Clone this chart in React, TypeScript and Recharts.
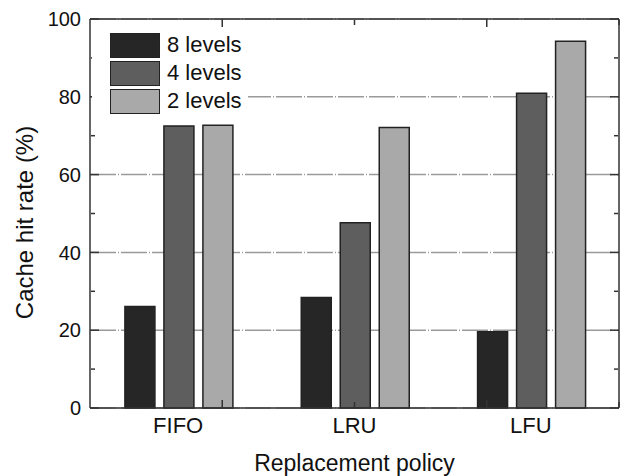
import { BarChart, Bar, XAxis, YAxis, CartesianGrid, Legend } from "recharts";

const policies = ["FIFO", "LRU", "LFU"];
const levels8 = [26.1, 28.4, 19.6];
const levels4 = [72.5, 47.6, 80.9];
const levels2 = [72.7, 72.1, 94.3];

const majorTicks = [0, 20, 40, 60, 80, 100];
const minorTicks = [10, 30, 50, 70, 90];
const centerTicks = [0.5, 1.5, 2.5];
const boundaryTicks = [1, 2];

const series = [
  { key: "l8", name: "8 levels", fill: "#262626" },
  { key: "l4", name: "4 levels", fill: "#5e5e5e" },
  { key: "l2", name: "2 levels", fill: "#a9a9a9" },
];

const data = policies.map((p, i) => ({
  policy: p,
  l8: levels8[i],
  l4: levels4[i],
  l2: levels2[i],
}));

const FONT = "'Liberation Sans', Arial, Helvetica, sans-serif";
const AXIS = "#333";
const tickStroke = { stroke: AXIS, strokeWidth: 1.5 };
const noLabel = () => "";

function LegendBox() {
  return (
    <div style={{ background: "#fff", padding: "4px 6px 4px 18px", fontFamily: FONT }}>
      {series.map((s) => (
        <div key={s.key} style={{ display: "flex", alignItems: "center", height: 28 }}>
          <div style={{ width: 48, height: 23, background: s.fill, border: "1.5px solid #222" }} />
          <span style={{ marginLeft: 7, fontSize: 22, color: "#111", lineHeight: "22px" }}>{s.name}</span>
        </div>
      ))}
    </div>
  );
}

// y-axis title, centred a little below the middle of the plot like the original
function YTitle(props: any) {
  const vb = props.viewBox || { x: 0, y: 0, width: 90, height: 389 };
  const cx = vb.x + 24;
  const cy = vb.y + vb.height / 2 + 9;
  return (
    <text
      x={cx}
      y={cy}
      transform={`rotate(-90, ${cx}, ${cy})`}
      textAnchor="middle"
      dominantBaseline="central"
      fill="#111"
      fontSize={24}
      fontFamily={FONT}
    >
      Cache hit rate (%)
    </text>
  );
}

export default function App() {
  return (
    <div style={{ position: "absolute", top: 0, left: 0, background: "#fff" }}>
      <BarChart
        width={627}
        height={476}
        data={data}
        margin={{ top: 19, right: 8, bottom: 0, left: 0 }}
        barCategoryGap="19.8%"
        barGap={9}
      >
        <CartesianGrid
          yAxisId="left"
          xAxisId="cat"
          vertical={false}
          stroke="#9a9a9a"
          strokeWidth={1.5}
          strokeDasharray="26 2 1 2"
        />
        {/* inward tick marks, drawn by mirrored helper axes */}
        <XAxis xAxisId="cmaj" type="number" domain={[0, 3]} ticks={centerTicks} allowDataOverflow mirror orientation="bottom" axisLine={false} tickFormatter={noLabel} tickSize={8} tickLine={tickStroke} height={1} />
        <XAxis xAxisId="cmin" type="number" domain={[0, 3]} ticks={boundaryTicks} allowDataOverflow mirror orientation="bottom" axisLine={false} tickFormatter={noLabel} tickSize={5} tickLine={tickStroke} height={1} />
        <XAxis xAxisId="tmaj" type="number" domain={[0, 3]} ticks={centerTicks} allowDataOverflow mirror orientation="top" axisLine={tickStroke} tickFormatter={noLabel} tickSize={8} tickLine={tickStroke} height={1} />
        <XAxis xAxisId="tmin" type="number" domain={[0, 3]} ticks={boundaryTicks} allowDataOverflow mirror orientation="top" axisLine={false} tickFormatter={noLabel} tickSize={5} tickLine={tickStroke} height={1} />
        <YAxis yAxisId="lmaj" type="number" domain={[0, 100]} ticks={majorTicks} allowDataOverflow mirror orientation="left" axisLine={false} tickFormatter={noLabel} tickSize={9} tickLine={tickStroke} width={1} />
        <YAxis yAxisId="lmin" type="number" domain={[0, 100]} ticks={minorTicks} allowDataOverflow mirror orientation="left" axisLine={false} tickFormatter={noLabel} tickSize={4} tickLine={tickStroke} width={1} />
        <YAxis yAxisId="rmaj" type="number" domain={[0, 100]} ticks={majorTicks} allowDataOverflow mirror orientation="right" axisLine={tickStroke} tickFormatter={noLabel} tickSize={9} tickLine={tickStroke} width={1} />
        <YAxis yAxisId="rmin" type="number" domain={[0, 100]} ticks={minorTicks} allowDataOverflow mirror orientation="right" axisLine={false} tickFormatter={noLabel} tickSize={4} tickLine={tickStroke} width={1} />

        <XAxis
          xAxisId="cat"
          dataKey="policy"
          height={68}
          axisLine={tickStroke}
          tickLine={false}
          tickSize={0}
          tickMargin={9}
          tick={{ fill: "#111", fontSize: 22, fontFamily: FONT }}
          label={{ value: "Replacement policy", position: "insideBottom", offset: 5, fill: "#111", fontSize: 23, fontFamily: FONT }}
        />
        <YAxis
          yAxisId="left"
          domain={[0, 100]}
          ticks={majorTicks}
          width={90}
          axisLine={tickStroke}
          tickLine={false}
          tickSize={0}
          tickMargin={9}
          tick={{ fill: "#111", fontSize: 20, fontFamily: FONT }}
          label={<YTitle />}
        />
        <Legend
          layout="vertical"
          align="center"
          verticalAlign="middle"
          wrapperStyle={{ left: 92, top: 27, width: "auto" }}
          content={() => <LegendBox />}
        />
        {series.map((s) => (
          <Bar
            key={s.key}
            xAxisId="cat"
            yAxisId="left"
            dataKey={s.key}
            name={s.name}
            fill={s.fill}
            stroke="#222"
            strokeWidth={1.5}
            isAnimationActive={false}
          />
        ))}
      </BarChart>
    </div>
  );
}
